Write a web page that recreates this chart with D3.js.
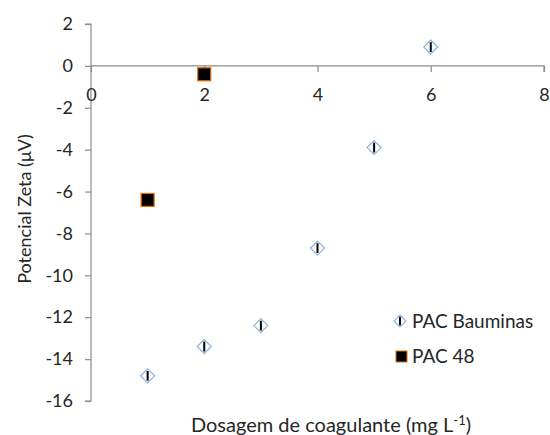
<!DOCTYPE html>
<html lang="pt">
<head>
<meta charset="UTF-8">
<title>Potencial Zeta</title>
<script src="https://d3js.org/d3.v7.min.js"></script>
<style>
  body { margin: 0; background: #fff; }
  text { font-family: Lato, "Open Sans", sans-serif; fill: #262626; }
</style>
</head>
<body>
<script>
// dosagem (mg/L) e potencial zeta
const dosesBauminas = [1, 2, 3, 4, 5, 6];
const zetaBauminas = [-14.8, -13.4, -12.4, -8.7, -3.9, 0.9];
const doses48 = [1, 2];
const zeta48 = [-6.4, -0.4];
const xTicks = [0, 2, 4, 6, 8];
const yTicks = [2, 0, -2, -4, -6, -8, -10, -12, -14, -16];

const width = 550, height = 435;
const axisColor = "#8c8c8c";

const svg = d3.select("body").append("svg")
    .attr("width", width)
    .attr("height", height);

const x = d3.scaleLinear().domain([0, 8]).range([91, 544]);
const y = d3.scaleLinear().domain([2, -16]).range([24, 401]);

// eixo y
const yAxis = svg.append("g")
    .attr("transform", `translate(${x(0)},0)`)
    .call(d3.axisLeft(y).tickValues(yTicks).tickSize(6).tickPadding(12).tickFormat(d => d));
yAxis.selectAll("path, line").attr("stroke", axisColor).attr("stroke-width", 1.2);
yAxis.selectAll("text").style("font-size", "18px").attr("fill", "#262626");
yAxis.select(".domain").attr("d", `M-6,${y(2)}H0V${y(-16)}H-6`);

// eixo x no zero
const xAxis = svg.append("g")
    .attr("transform", `translate(0,${y(0)})`)
    .call(d3.axisBottom(x).tickValues(xTicks).tickSize(6).tickPadding(16));
xAxis.selectAll("path, line").attr("stroke", axisColor).attr("stroke-width", 1.2);
xAxis.selectAll("text").style("font-size", "18px").attr("fill", "#262626");
xAxis.select(".domain").attr("d", `M${x(0)},0H${x(8)}V6`);

// PAC Bauminas: losango com barra
function diamond(g, s) {
    g.append("path")
        .attr("d", `M0,${-s}L${s},0L0,${s}L${-s},0Z`)
        .attr("fill", "#fff")
        .attr("stroke", "#8db3e2")
        .attr("stroke-width", 1.2);
    g.append("line")
        .attr("x1", 0).attr("x2", 0).attr("y1", -s * 0.7).attr("y2", s * 0.7)
        .attr("stroke", "#000").attr("stroke-width", 2);
}

svg.append("g").selectAll("g")
    .data(dosesBauminas.map((d, i) => ({ x: d, y: zetaBauminas[i] })))
    .enter().append("g")
    .attr("transform", d => `translate(${x(d.x)},${y(d.y)})`)
    .each(function() { diamond(d3.select(this), 7); });

// PAC 48: quadrado
svg.append("g").selectAll("rect")
    .data(doses48.map((d, i) => ({ x: d, y: zeta48[i] })))
    .enter().append("rect")
    .attr("x", d => x(d.x) - 6.5)
    .attr("y", d => y(d.y) - 6.5)
    .attr("width", 13).attr("height", 13)
    .attr("fill", "#000")
    .attr("stroke", "#e46c0a")
    .attr("stroke-width", 1.2);

// legenda
const leg = svg.append("g");
diamond(leg.append("g").attr("transform", "translate(400,321)"), 6);
leg.append("text").attr("x", 412).attr("y", 328).style("font-size", "19px").text("PAC Bauminas");
leg.append("rect").attr("x", 396).attr("y", 351).attr("width", 11).attr("height", 11)
    .attr("fill", "#000").attr("stroke", "#e46c0a").attr("stroke-width", 1);
leg.append("text").attr("x", 412).attr("y", 363).style("font-size", "19px").text("PAC 48");

// títulos dos eixos
const xt = svg.append("text")
    .attr("x", 331).attr("y", 432)
    .attr("text-anchor", "middle")
    .style("font-size", "20px");
xt.append("tspan").text("Dosagem de coagulante (mg L");
xt.append("tspan").attr("dy", -7).style("font-size", "13px").text("-1");
xt.append("tspan").attr("dy", 7).text(")");

svg.append("text")
    .attr("transform", "translate(31,209) rotate(-90)")
    .attr("text-anchor", "middle")
    .style("font-size", "18px")
    .text("Potencial Zeta (μV)");
</script>
</body>
</html>
